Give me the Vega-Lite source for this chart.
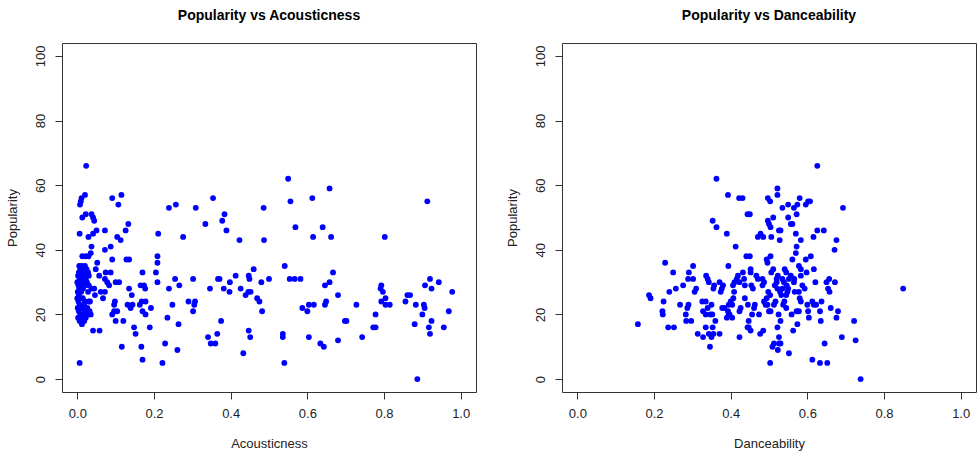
{
 "$schema": "https://vega.github.io/schema/vega-lite/v6.json",
 "background": "white",
 "padding": {"left": 5, "top": 8, "right": 0, "bottom": 0},
 "spacing": 86,
 "bounds": "flush",
 "config": {
  "font": "Liberation Sans",
  "view": {"stroke": "#333", "strokeWidth": 1},
  "axis": {"grid": false, "domain": false, "tickColor": "#333", "tickSize": 7, "labelFont": "Liberation Sans", "labelFontSize": 13, "labelColor": "#222", "labelFlush": false, "labelOverlap": false, "titleFont": "Liberation Sans", "titleFontSize": 13, "titleFontWeight": "normal", "titleColor": "#222"},
  "axisX": {"labelPadding": 8, "titlePadding": 17},
  "axisY": {"labelAngle": -90, "labelAlign": "center", "labelBaseline": "bottom", "labelPadding": 8, "titlePadding": 15},
  "title": {"font": "Liberation Sans", "fontSize": 14, "fontWeight": "bold", "color": "#000", "anchor": "middle", "offset": 20}
 },
 "datasets": {
  "acoustic": [
   {"Acousticness":0.023,"Popularity":66},{"Acousticness":0.020,"Popularity":57},{"Acousticness":0.011,"Popularity":56},{"Acousticness":0.009,"Popularity":55},{"Acousticness":0.007,"Popularity":54},{"Acousticness":0.091,"Popularity":56},{"Acousticness":0.115,"Popularity":57},{"Acousticness":0.107,"Popularity":54},{"Acousticness":0.239,"Popularity":53},{"Acousticness":0.257,"Popularity":54},{"Acousticness":0.309,"Popularity":53},{"Acousticness":0.354,"Popularity":56},
   {"Acousticness":0.013,"Popularity":50},{"Acousticness":0.022,"Popularity":51},{"Acousticness":0.037,"Popularity":51},{"Acousticness":0.041,"Popularity":50},{"Acousticness":0.044,"Popularity":49},{"Acousticness":0.006,"Popularity":45},{"Acousticness":0.029,"Popularity":44},{"Acousticness":0.041,"Popularity":45},{"Acousticness":0.050,"Popularity":46},{"Acousticness":0.072,"Popularity":46},{"Acousticness":0.104,"Popularity":44},{"Acousticness":0.113,"Popularity":43},{"Acousticness":0.126,"Popularity":46},{"Acousticness":0.133,"Popularity":48},{"Acousticness":0.211,"Popularity":45},{"Acousticness":0.276,"Popularity":44},{"Acousticness":0.334,"Popularity":48},
   {"Acousticness":0.037,"Popularity":41},{"Acousticness":0.029,"Popularity":38},{"Acousticness":0.022,"Popularity":38},{"Acousticness":0.013,"Popularity":38},{"Acousticness":0.035,"Popularity":39},{"Acousticness":0.072,"Popularity":40},{"Acousticness":0.087,"Popularity":41},{"Acousticness":0.091,"Popularity":37},{"Acousticness":0.128,"Popularity":37},{"Acousticness":0.135,"Popularity":37},{"Acousticness":0.209,"Popularity":38},{"Acousticness":0.209,"Popularity":36},{"Acousticness":0.052,"Popularity":36},
   {"Acousticness":0.005,"Popularity":35},{"Acousticness":0.012,"Popularity":35},{"Acousticness":0.020,"Popularity":35},{"Acousticness":0.008,"Popularity":34},{"Acousticness":0.016,"Popularity":34},{"Acousticness":0.024,"Popularity":34},{"Acousticness":0.004,"Popularity":33},{"Acousticness":0.012,"Popularity":33},{"Acousticness":0.020,"Popularity":33},{"Acousticness":0.028,"Popularity":33},{"Acousticness":0.002,"Popularity":32},{"Acousticness":0.010,"Popularity":32},{"Acousticness":0.018,"Popularity":32},{"Acousticness":0.030,"Popularity":32},{"Acousticness":0.006,"Popularity":31},{"Acousticness":0.014,"Popularity":31},{"Acousticness":0.022,"Popularity":31},{"Acousticness":0.000,"Popularity":30},{"Acousticness":0.008,"Popularity":30},{"Acousticness":0.016,"Popularity":30},{"Acousticness":0.025,"Popularity":30},{"Acousticness":0.003,"Popularity":29},{"Acousticness":0.012,"Popularity":29},{"Acousticness":0.020,"Popularity":29},{"Acousticness":0.030,"Popularity":29},{"Acousticness":0.005,"Popularity":28},{"Acousticness":0.015,"Popularity":28},{"Acousticness":0.001,"Popularity":27},{"Acousticness":0.010,"Popularity":27},{"Acousticness":0.028,"Popularity":27},{"Acousticness":0.004,"Popularity":26},{"Acousticness":0.000,"Popularity":25},{"Acousticness":0.014,"Popularity":25},{"Acousticness":0.003,"Popularity":24},{"Acousticness":0.020,"Popularity":24},{"Acousticness":0.030,"Popularity":24},{"Acousticness":0.006,"Popularity":23},{"Acousticness":0.018,"Popularity":23},{"Acousticness":0.001,"Popularity":22},{"Acousticness":0.012,"Popularity":22},{"Acousticness":0.026,"Popularity":22},{"Acousticness":0.004,"Popularity":21},{"Acousticness":0.020,"Popularity":21},{"Acousticness":0.032,"Popularity":21},{"Acousticness":0.008,"Popularity":20},{"Acousticness":0.016,"Popularity":20},{"Acousticness":0.030,"Popularity":20},{"Acousticness":0.002,"Popularity":19},{"Acousticness":0.012,"Popularity":19},{"Acousticness":0.022,"Popularity":19},{"Acousticness":0.006,"Popularity":18},{"Acousticness":0.018,"Popularity":18},{"Acousticness":0.012,"Popularity":17},
   {"Acousticness":0.037,"Popularity":28},{"Acousticness":0.046,"Popularity":26},{"Acousticness":0.033,"Popularity":24},{"Acousticness":0.035,"Popularity":20},
   {"Acousticness":0.048,"Popularity":34},{"Acousticness":0.057,"Popularity":32},{"Acousticness":0.074,"Popularity":33},{"Acousticness":0.087,"Popularity":33},{"Acousticness":0.072,"Popularity":31},{"Acousticness":0.078,"Popularity":30},{"Acousticness":0.083,"Popularity":29},{"Acousticness":0.100,"Popularity":30},{"Acousticness":0.109,"Popularity":30},{"Acousticness":0.044,"Popularity":28},{"Acousticness":0.061,"Popularity":27},{"Acousticness":0.072,"Popularity":27},{"Acousticness":0.067,"Popularity":25},{"Acousticness":0.096,"Popularity":23},{"Acousticness":0.098,"Popularity":24},{"Acousticness":0.135,"Popularity":28},{"Acousticness":0.142,"Popularity":26},{"Acousticness":0.131,"Popularity":23},{"Acousticness":0.144,"Popularity":23},{"Acousticness":0.139,"Popularity":22},{"Acousticness":0.170,"Popularity":33},{"Acousticness":0.165,"Popularity":29},{"Acousticness":0.174,"Popularity":29},{"Acousticness":0.177,"Popularity":28},{"Acousticness":0.163,"Popularity":23},{"Acousticness":0.168,"Popularity":24},{"Acousticness":0.178,"Popularity":24},{"Acousticness":0.170,"Popularity":21},{"Acousticness":0.178,"Popularity":20},{"Acousticness":0.192,"Popularity":22},{"Acousticness":0.205,"Popularity":33},{"Acousticness":0.209,"Popularity":30},{"Acousticness":0.096,"Popularity":21},{"Acousticness":0.104,"Popularity":21},{"Acousticness":0.091,"Popularity":20},{"Acousticness":0.100,"Popularity":18},{"Acousticness":0.120,"Popularity":18},{"Acousticness":0.148,"Popularity":16},{"Acousticness":0.152,"Popularity":14},{"Acousticness":0.189,"Popularity":16},{"Acousticness":0.041,"Popularity":15},{"Acousticness":0.058,"Popularity":15},{"Acousticness":0.116,"Popularity":10},{"Acousticness":0.167,"Popularity":10},{"Acousticness":0.170,"Popularity":6},{"Acousticness":0.222,"Popularity":5},{"Acousticness":0.006,"Popularity":5},{"Acousticness":0.235,"Popularity":19},{"Acousticness":0.264,"Popularity":17},{"Acousticness":0.229,"Popularity":11},{"Acousticness":0.261,"Popularity":9},{"Acousticness":0.248,"Popularity":23},{"Acousticness":0.255,"Popularity":31},{"Acousticness":0.266,"Popularity":29},{"Acousticness":0.239,"Popularity":28},{"Acousticness":0.290,"Popularity":24},{"Acousticness":0.302,"Popularity":31},{"Acousticness":0.307,"Popularity":24},{"Acousticness":0.302,"Popularity":21},{"Acousticness":0.305,"Popularity":23},
   {"Acousticness":0.550,"Popularity":62},{"Acousticness":0.658,"Popularity":59},{"Acousticness":0.556,"Popularity":55},{"Acousticness":0.613,"Popularity":56},{"Acousticness":0.486,"Popularity":53},{"Acousticness":0.384,"Popularity":51},{"Acousticness":0.378,"Popularity":49},{"Acousticness":0.389,"Popularity":46},{"Acousticness":0.423,"Popularity":43},{"Acousticness":0.487,"Popularity":43},{"Acousticness":0.569,"Popularity":47},{"Acousticness":0.640,"Popularity":47},{"Acousticness":0.615,"Popularity":44},{"Acousticness":0.662,"Popularity":44},{"Acousticness":0.541,"Popularity":35},{"Acousticness":0.346,"Popularity":28},{"Acousticness":0.367,"Popularity":31},{"Acousticness":0.371,"Popularity":31},{"Acousticness":0.382,"Popularity":28},{"Acousticness":0.398,"Popularity":30},{"Acousticness":0.397,"Popularity":27},{"Acousticness":0.413,"Popularity":32},{"Acousticness":0.426,"Popularity":28},{"Acousticness":0.447,"Popularity":32},{"Acousticness":0.449,"Popularity":31},{"Acousticness":0.460,"Popularity":34},{"Acousticness":0.439,"Popularity":26},{"Acousticness":0.446,"Popularity":27},{"Acousticness":0.452,"Popularity":27},{"Acousticness":0.469,"Popularity":25},{"Acousticness":0.475,"Popularity":24},{"Acousticness":0.480,"Popularity":30},{"Acousticness":0.500,"Popularity":31},{"Acousticness":0.482,"Popularity":21},{"Acousticness":0.554,"Popularity":31},{"Acousticness":0.567,"Popularity":31},{"Acousticness":0.582,"Popularity":31},{"Acousticness":0.587,"Popularity":22},{"Acousticness":0.600,"Popularity":21},{"Acousticness":0.604,"Popularity":23},{"Acousticness":0.617,"Popularity":23},{"Acousticness":0.646,"Popularity":29},{"Acousticness":0.658,"Popularity":30},{"Acousticness":0.667,"Popularity":33},{"Acousticness":0.646,"Popularity":23},{"Acousticness":0.649,"Popularity":24},{"Acousticness":0.680,"Popularity":26},{"Acousticness":0.375,"Popularity":18},{"Acousticness":0.341,"Popularity":13},{"Acousticness":0.348,"Popularity":11},{"Acousticness":0.360,"Popularity":11},{"Acousticness":0.365,"Popularity":14},{"Acousticness":0.447,"Popularity":15},{"Acousticness":0.451,"Popularity":13},{"Acousticness":0.433,"Popularity":8},{"Acousticness":0.536,"Popularity":14},{"Acousticness":0.536,"Popularity":13},{"Acousticness":0.540,"Popularity":5},{"Acousticness":0.604,"Popularity":13},{"Acousticness":0.634,"Popularity":11},{"Acousticness":0.643,"Popularity":10},{"Acousticness":0.680,"Popularity":12},{"Acousticness":0.698,"Popularity":18},
   {"Acousticness":0.913,"Popularity":55},{"Acousticness":0.802,"Popularity":44},{"Acousticness":0.920,"Popularity":31},{"Acousticness":0.943,"Popularity":30},{"Acousticness":0.907,"Popularity":29},{"Acousticness":0.924,"Popularity":28},{"Acousticness":0.978,"Popularity":27},{"Acousticness":0.793,"Popularity":29},{"Acousticness":0.791,"Popularity":28},{"Acousticness":0.797,"Popularity":27},{"Acousticness":0.804,"Popularity":25},{"Acousticness":0.793,"Popularity":24},{"Acousticness":0.804,"Popularity":23},{"Acousticness":0.815,"Popularity":23},{"Acousticness":0.861,"Popularity":26},{"Acousticness":0.868,"Popularity":26},{"Acousticness":0.856,"Popularity":24},{"Acousticness":0.883,"Popularity":23},{"Acousticness":0.904,"Popularity":23},{"Acousticness":0.906,"Popularity":22},{"Acousticness":0.728,"Popularity":23},{"Acousticness":0.702,"Popularity":18},{"Acousticness":0.778,"Popularity":20},{"Acousticness":0.900,"Popularity":20},{"Acousticness":0.969,"Popularity":21},{"Acousticness":0.772,"Popularity":16},{"Acousticness":0.778,"Popularity":16},{"Acousticness":0.743,"Popularity":13},{"Acousticness":0.880,"Popularity":17},{"Acousticness":0.924,"Popularity":18},{"Acousticness":0.917,"Popularity":16},{"Acousticness":0.920,"Popularity":14},{"Acousticness":0.956,"Popularity":16},{"Acousticness":0.887,"Popularity":0}
  ],
  "dance": [
   {"Danceability":0.158,"Popularity":17},{"Danceability":0.187,"Popularity":26},{"Danceability":0.191,"Popularity":25},{"Danceability":0.229,"Popularity":36},{"Danceability":0.225,"Popularity":24},{"Danceability":0.222,"Popularity":21},{"Danceability":0.223,"Popularity":20},{"Danceability":0.237,"Popularity":16},{"Danceability":0.252,"Popularity":16},{"Danceability":0.240,"Popularity":27},{"Danceability":0.250,"Popularity":33},{"Danceability":0.257,"Popularity":28},{"Danceability":0.268,"Popularity":23},{"Danceability":0.276,"Popularity":29},{"Danceability":0.283,"Popularity":20},{"Danceability":0.284,"Popularity":18},{"Danceability":0.287,"Popularity":22},{"Danceability":0.290,"Popularity":23},{"Danceability":0.289,"Popularity":31},{"Danceability":0.291,"Popularity":33},{"Danceability":0.297,"Popularity":18},{"Danceability":0.302,"Popularity":31},{"Danceability":0.302,"Popularity":35},{"Danceability":0.306,"Popularity":27},{"Danceability":0.310,"Popularity":28},{"Danceability":0.314,"Popularity":14},{"Danceability":0.328,"Popularity":13},{"Danceability":0.326,"Popularity":24},{"Danceability":0.335,"Popularity":24},{"Danceability":0.328,"Popularity":21},{"Danceability":0.335,"Popularity":20},{"Danceability":0.336,"Popularity":32},{"Danceability":0.340,"Popularity":31},{"Danceability":0.343,"Popularity":30},{"Danceability":0.335,"Popularity":16},{"Danceability":0.340,"Popularity":22},{"Danceability":0.347,"Popularity":20},{"Danceability":0.352,"Popularity":20},{"Danceability":0.346,"Popularity":10},{"Danceability":0.343,"Popularity":14},{"Danceability":0.350,"Popularity":13},{"Danceability":0.355,"Popularity":14},{"Danceability":0.350,"Popularity":23},{"Danceability":0.353,"Popularity":16},{"Danceability":0.355,"Popularity":28},{"Danceability":0.357,"Popularity":29},{"Danceability":0.360,"Popularity":18},{"Danceability":0.353,"Popularity":49},{"Danceability":0.363,"Popularity":47},{"Danceability":0.363,"Popularity":62},{"Danceability":0.371,"Popularity":14},{"Danceability":0.374,"Popularity":27},{"Danceability":0.371,"Popularity":30},{"Danceability":0.377,"Popularity":28},{"Danceability":0.378,"Popularity":22},{"Danceability":0.384,"Popularity":22},{"Danceability":0.380,"Popularity":29},{"Danceability":0.390,"Popularity":45},{"Danceability":0.393,"Popularity":57},{"Danceability":0.394,"Popularity":35},{"Danceability":0.390,"Popularity":19},{"Danceability":0.395,"Popularity":20},{"Danceability":0.393,"Popularity":21},{"Danceability":0.397,"Popularity":20},{"Danceability":0.395,"Popularity":23},{"Danceability":0.400,"Popularity":24},{"Danceability":0.404,"Popularity":23},{"Danceability":0.407,"Popularity":25},{"Danceability":0.406,"Popularity":29},{"Danceability":0.410,"Popularity":30},{"Danceability":0.404,"Popularity":19},{"Danceability":0.409,"Popularity":27},{"Danceability":0.413,"Popularity":41},{"Danceability":0.416,"Popularity":31},{"Danceability":0.419,"Popularity":32},{"Danceability":0.423,"Popularity":30},{"Danceability":0.422,"Popularity":56},{"Danceability":0.431,"Popularity":56},{"Danceability":0.423,"Popularity":13},{"Danceability":0.426,"Popularity":22},{"Danceability":0.423,"Popularity":21},{"Danceability":0.432,"Popularity":33},{"Danceability":0.435,"Popularity":31},{"Danceability":0.437,"Popularity":29},{"Danceability":0.437,"Popularity":25},{"Danceability":0.441,"Popularity":38},{"Danceability":0.450,"Popularity":38},{"Danceability":0.444,"Popularity":51},{"Danceability":0.450,"Popularity":51},{"Danceability":0.445,"Popularity":23},{"Danceability":0.444,"Popularity":16},{"Danceability":0.447,"Popularity":16},{"Danceability":0.452,"Popularity":15},{"Danceability":0.447,"Popularity":18},{"Danceability":0.452,"Popularity":34},{"Danceability":0.452,"Popularity":33},{"Danceability":0.454,"Popularity":29},{"Danceability":0.458,"Popularity":28},{"Danceability":0.456,"Popularity":20},{"Danceability":0.461,"Popularity":22},{"Danceability":0.463,"Popularity":23},{"Danceability":0.467,"Popularity":32},{"Danceability":0.471,"Popularity":31},{"Danceability":0.471,"Popularity":44},{"Danceability":0.478,"Popularity":45},{"Danceability":0.485,"Popularity":44},{"Danceability":0.474,"Popularity":20},{"Danceability":0.477,"Popularity":14},{"Danceability":0.483,"Popularity":29},{"Danceability":0.487,"Popularity":30},{"Danceability":0.483,"Popularity":31},{"Danceability":0.485,"Popularity":15},{"Danceability":0.487,"Popularity":24},{"Danceability":0.494,"Popularity":25},{"Danceability":0.491,"Popularity":23},{"Danceability":0.496,"Popularity":23},{"Danceability":0.494,"Popularity":37},{"Danceability":0.496,"Popularity":36},{"Danceability":0.497,"Popularity":56},{"Danceability":0.497,"Popularity":49},{"Danceability":0.500,"Popularity":48},{"Danceability":0.504,"Popularity":47},{"Danceability":0.503,"Popularity":55},{"Danceability":0.498,"Popularity":27},{"Danceability":0.503,"Popularity":26},{"Danceability":0.500,"Popularity":21},{"Danceability":0.504,"Popularity":21},{"Danceability":0.503,"Popularity":5},{"Danceability":0.504,"Popularity":38},{"Danceability":0.506,"Popularity":44},{"Danceability":0.506,"Popularity":33},{"Danceability":0.511,"Popularity":34},{"Danceability":0.509,"Popularity":10},{"Danceability":0.513,"Popularity":11},{"Danceability":0.511,"Popularity":50},{"Danceability":0.513,"Popularity":23},{"Danceability":0.517,"Popularity":24},{"Danceability":0.515,"Popularity":29},{"Danceability":0.520,"Popularity":30},{"Danceability":0.522,"Popularity":28},{"Danceability":0.520,"Popularity":31},{"Danceability":0.523,"Popularity":32},{"Danceability":0.522,"Popularity":59},{"Danceability":0.522,"Popularity":57},{"Danceability":0.522,"Popularity":16},{"Danceability":0.523,"Popularity":9},{"Danceability":0.526,"Popularity":11},{"Danceability":0.530,"Popularity":11},{"Danceability":0.526,"Popularity":46},{"Danceability":0.530,"Popularity":46},{"Danceability":0.528,"Popularity":43},{"Danceability":0.526,"Popularity":13},{"Danceability":0.525,"Popularity":20},{"Danceability":0.529,"Popularity":27},{"Danceability":0.532,"Popularity":26},{"Danceability":0.535,"Popularity":28},{"Danceability":0.530,"Popularity":18},{"Danceability":0.535,"Popularity":53},{"Danceability":0.535,"Popularity":31},{"Danceability":0.539,"Popularity":30},{"Danceability":0.537,"Popularity":23},{"Danceability":0.540,"Popularity":24},{"Danceability":0.545,"Popularity":22},{"Danceability":0.541,"Popularity":34},{"Danceability":0.545,"Popularity":33},{"Danceability":0.545,"Popularity":26},{"Danceability":0.548,"Popularity":27},{"Danceability":0.546,"Popularity":29},{"Danceability":0.550,"Popularity":28},{"Danceability":0.550,"Popularity":54},{"Danceability":0.550,"Popularity":50},{"Danceability":0.552,"Popularity":8},{"Danceability":0.552,"Popularity":31},{"Danceability":0.557,"Popularity":32},{"Danceability":0.557,"Popularity":48},{"Danceability":0.561,"Popularity":48},{"Danceability":0.559,"Popularity":20},{"Danceability":0.561,"Popularity":37},{"Danceability":0.563,"Popularity":15},{"Danceability":0.565,"Popularity":30},{"Danceability":0.566,"Popularity":31},{"Danceability":0.565,"Popularity":53},{"Danceability":0.567,"Popularity":27},{"Danceability":0.570,"Popularity":39},{"Danceability":0.570,"Popularity":45},{"Danceability":0.572,"Popularity":41},{"Danceability":0.572,"Popularity":21},{"Danceability":0.578,"Popularity":21},{"Danceability":0.572,"Popularity":51},{"Danceability":0.574,"Popularity":17},{"Danceability":0.574,"Popularity":54},{"Danceability":0.578,"Popularity":27},{"Danceability":0.580,"Popularity":25},{"Danceability":0.583,"Popularity":24},{"Danceability":0.578,"Popularity":35},{"Danceability":0.583,"Popularity":34},{"Danceability":0.580,"Popularity":56},{"Danceability":0.583,"Popularity":43},{"Danceability":0.583,"Popularity":32},{"Danceability":0.587,"Popularity":29},{"Danceability":0.593,"Popularity":28},{"Danceability":0.596,"Popularity":37},{"Danceability":0.596,"Popularity":54},{"Danceability":0.602,"Popularity":55},{"Danceability":0.607,"Popularity":55},{"Danceability":0.598,"Popularity":33},{"Danceability":0.600,"Popularity":23},{"Danceability":0.602,"Popularity":21},{"Danceability":0.604,"Popularity":19},{"Danceability":0.609,"Popularity":38},{"Danceability":0.613,"Popularity":6},{"Danceability":0.613,"Popularity":24},{"Danceability":0.617,"Popularity":23},{"Danceability":0.616,"Popularity":44},{"Danceability":0.617,"Popularity":34},{"Danceability":0.621,"Popularity":30},{"Danceability":0.623,"Popularity":23},{"Danceability":0.626,"Popularity":66},{"Danceability":0.626,"Popularity":46},{"Danceability":0.633,"Popularity":21},{"Danceability":0.635,"Popularity":18},{"Danceability":0.633,"Popularity":5},{"Danceability":0.637,"Popularity":24},{"Danceability":0.643,"Popularity":46},{"Danceability":0.645,"Popularity":11},{"Danceability":0.650,"Popularity":30},{"Danceability":0.654,"Popularity":28},{"Danceability":0.658,"Popularity":27},{"Danceability":0.652,"Popularity":5},{"Danceability":0.657,"Popularity":31},{"Danceability":0.661,"Popularity":22},{"Danceability":0.671,"Popularity":40},{"Danceability":0.672,"Popularity":30},{"Danceability":0.676,"Popularity":43},{"Danceability":0.676,"Popularity":19},{"Danceability":0.680,"Popularity":21},{"Danceability":0.690,"Popularity":13},{"Danceability":0.693,"Popularity":53},{"Danceability":0.722,"Popularity":18},{"Danceability":0.726,"Popularity":12},{"Danceability":0.739,"Popularity":0},{"Danceability":0.850,"Popularity":28}
  ]
 },
 "hconcat": [
  {
   "width": 414, "height": 349,
   "title": "Popularity vs Acousticness",
   "data": {"name": "acoustic"},
   "mark": {"type": "circle", "size": 34, "color": "#0000FF", "opacity": 1},
   "encoding": {
    "x": {"field": "Acousticness", "type": "quantitative", "scale": {"domain": [-0.04, 1.04], "nice": false, "zero": false}, "axis": {"values": [0, 0.2, 0.4, 0.6, 0.8, 1.0], "format": ".1f"}},
    "y": {"field": "Popularity", "type": "quantitative", "scale": {"domain": [-4, 104], "nice": false, "zero": false}, "axis": {"values": [0, 20, 40, 60, 80, 100]}}
   }
  },
  {
   "width": 414, "height": 349,
   "title": "Popularity vs Danceability",
   "data": {"name": "dance"},
   "mark": {"type": "circle", "size": 34, "color": "#0000FF", "opacity": 1},
   "encoding": {
    "x": {"field": "Danceability", "type": "quantitative", "scale": {"domain": [-0.04, 1.04], "nice": false, "zero": false}, "axis": {"values": [0, 0.2, 0.4, 0.6, 0.8, 1.0], "format": ".1f"}},
    "y": {"field": "Popularity", "type": "quantitative", "scale": {"domain": [-4, 104], "nice": false, "zero": false}, "axis": {"values": [0, 20, 40, 60, 80, 100]}}
   }
  }
 ]
}
